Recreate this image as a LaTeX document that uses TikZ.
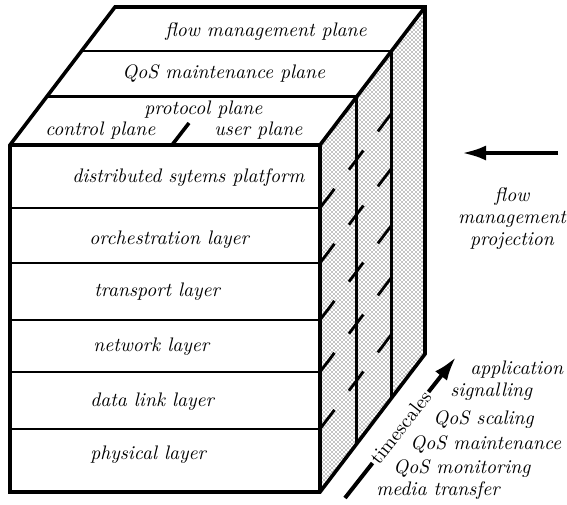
\documentclass[tikz,border=0pt]{standalone}
\usepackage{fontspec}
\usepackage{tikz}
\usetikzlibrary{arrows.meta}
\usetikzlibrary{positioning}
\usetikzlibrary{calc}
\usetikzlibrary{patterns.meta}

\tikzdeclarepattern{
    name=stipple,
    type=uncolored,
    bottom left={(-.5pt,-.5pt)},
    top right={(1.5pt,1.5pt)},
    tile size={(2pt,2pt)},
    code={
        \fill (0pt,0pt) circle (0.33pt);
        \fill (1pt,1pt) circle (0.33pt);
    }
}

\begin{document}
\begin{tikzpicture}[
            x=0.5pt,y=-0.5pt,
            every node/.style={font=\fontsize{9.8}{11}\selectfont\itshape,align=center,inner sep=1pt},
            left text/.style={anchor=west},
            thick line/.style={line width=1.8pt,line join=miter},
            thin line/.style={line width=1.3pt},
            depth line/.style={line width=1.4pt,dash pattern=on 12pt off 12pt},
            side face/.style={pattern=stipple,pattern color=black},
            heavy arrow/.style={line width=2pt,-{Latex[length=12pt,width=7.5pt]}}
        ]
        \tikzset{>=latex}
        \useasboundingbox (0,0) rectangle (567,504);

        \coordinate (front nw) at (10,145);
        \coordinate (front ne) at (320,145);
        \coordinate (front se) at (320,492);
        \coordinate (front sw) at (10,492);
        \coordinate (back nw) at (115,7);
        \coordinate (back ne) at (425,7);
        \coordinate (back se) at (425,354);
        \coordinate (plane 1 w) at ($(front nw)!0.35!(back nw)$);
        \coordinate (plane 1 e) at ($(front ne)!0.35!(back ne)$);
        \coordinate (plane 1 s) at ($(front se)!0.35!(back se)$);
        \coordinate (plane 2 w) at ($(front nw)!0.68!(back nw)$);
        \coordinate (plane 2 e) at ($(front ne)!0.68!(back ne)$);
        \coordinate (plane 2 s) at ($(front se)!0.68!(back se)$);
        \coordinate (protocol split) at (172,145);

        \fill[side face] (front ne) -- (back ne) -- (back se) -- (front se) -- cycle;
        \foreach \y in {208,263,320,372,429} {
            \draw[thin line] (front nw |- 0,\y) -- (front ne |- 0,\y);
            \draw[depth line] (front ne |- 0,\y) -- ++(71,-94);
        }
        \draw[thin line] (plane 1 w) -- (plane 1 e) -- (plane 1 s);
        \draw[thin line] (plane 2 w) -- (plane 2 e) -- (plane 2 s);
        \draw[thick line] (front sw) -- (front nw) -- (back nw) -- (back ne) -- (back se) -- (front se) -- cycle;
        \draw[thick line] (front nw) -- (front ne) -- (back ne);
        \draw[thick line] (front ne) -- (front se);
        \draw[thick line] (protocol split) -- ++(17,-22);

        \node [left text] (flow plane) at (163,32) {flow management plane};
        \node [left text] (qos plane) at (120,73) {QoS maintenance plane};
        \node [left text] (protocol plane) at (142,110) {protocol plane};
        \node [left text] (control plane) at (43,131) {control plane};
        \node [left text] (user plane) at (212,131) {user plane};

        \node [left text] (platform) at (70,178) {distributed sytems platform};
        \node [left text] (orchestration) at (87,240) {orchestration layer};
        \node [left text] (transport) at (92,292) {transport layer};
        \node [left text] (network) at (91,347) {network layer};
        \node [left text] (data link) at (88,402) {data link layer};
        \node [left text] (physical) at (88,455) {physical layer};

        \coordinate (projection tail) at (558,153);
        \coordinate (projection tip) at (462,153);
        \draw[heavy arrow] (projection tail) -- (projection tip);
        \node (projection) at (512,219) {flow\\ management\\ projection};

        \coordinate (timescales start) at (345,498);
        \coordinate (timescales tip) at (456,357);
        \draw[heavy arrow] (timescales start) -- node[sloped,fill=white,font=\fontsize{9.8}{11}\selectfont\upshape] (timescales) {timescales} (timescales tip);

        \node [left text] (application) at (468,370) {application};
        \node [left text] (signalling) at (448,392) {signalling};
        \node [left text] (qos scaling) at (431,420) {QoS scaling};
        \node [left text] (qos maintenance) at (408,444) {QoS maintenance};
        \node [left text] (qos monitoring) at (391,469) {QoS monitoring};
        \node [left text] (media transfer) at (374,491) {media transfer};
    \end{tikzpicture}
\end{document}
